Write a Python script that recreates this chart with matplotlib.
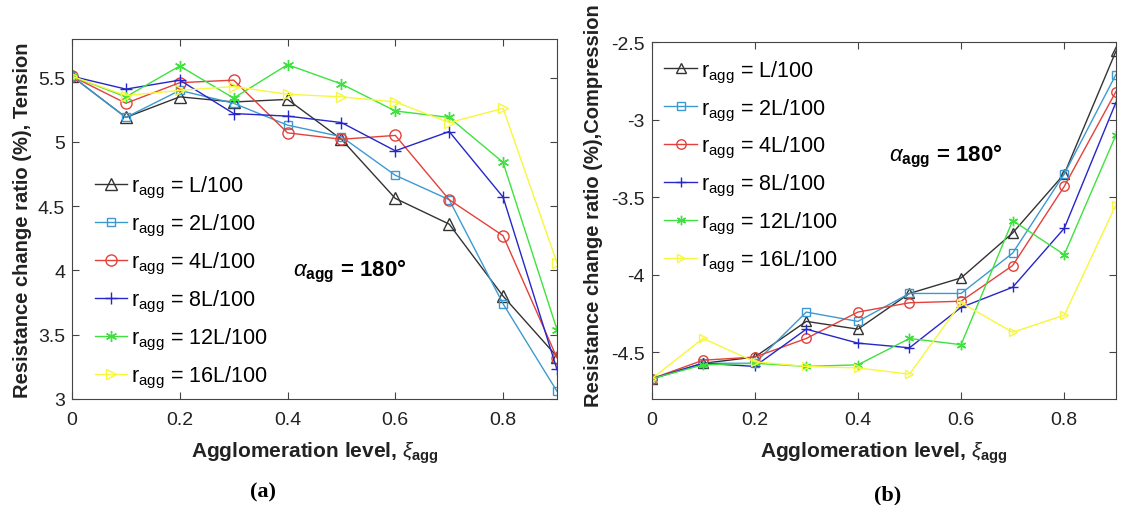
import matplotlib.pyplot as plt
from matplotlib.ticker import FuncFormatter

xi = [0, 0.1, 0.2, 0.3, 0.4, 0.5, 0.6, 0.7, 0.8, 0.9]

labels = ["L/100", "2L/100", "4L/100", "8L/100", "12L/100", "16L/100"]
colors = ["#333333", "#3d9ad1", "#e3413b", "#2626c9", "#3ee23e", "#f7f73c"]
markers = ["^", "s", "o", "+", (6, 2, 0), ">"]
msizes = [8, 6, 8, 8, 8, 7.5]

# (a) tension
tension = [
    [5.51, 5.19, 5.35, 5.31, 5.33, 5.02, 4.56, 4.36, 3.80, 3.33],
    [5.51, 5.19, 5.40, 5.30, 5.13, 5.04, 4.74, 4.55, 3.74, 3.06],
    [5.51, 5.30, 5.46, 5.48, 5.07, 5.02, 5.05, 4.55, 4.27, 3.32],
    [5.51, 5.41, 5.48, 5.22, 5.20, 5.15, 4.93, 5.08, 4.57, 3.23],
    [5.51, 5.35, 5.59, 5.34, 5.60, 5.45, 5.24, 5.19, 4.84, 3.54],
    [5.51, 5.36, 5.40, 5.43, 5.37, 5.35, 5.31, 5.15, 5.26, 4.06],
]

# (b) compression
compression = [
    [-4.67, -4.57, -4.53, -4.30, -4.35, -4.12, -4.02, -3.73, -3.35, -2.56],
    [-4.67, -4.57, -4.57, -4.24, -4.30, -4.12, -4.12, -3.86, -3.35, -2.71],
    [-4.67, -4.55, -4.53, -4.41, -4.24, -4.18, -4.17, -3.94, -3.43, -2.82],
    [-4.67, -4.57, -4.59, -4.35, -4.44, -4.47, -4.21, -4.08, -3.70, -2.89],
    [-4.67, -4.58, -4.57, -4.59, -4.58, -4.41, -4.45, -3.65, -3.87, -3.10],
    [-4.67, -4.41, -4.56, -4.59, -4.60, -4.64, -4.18, -4.37, -4.26, -3.55],
]

plt.rcParams["font.family"] = ["Liberation Sans", "DejaVu Sans"]
plt.rcParams["mathtext.fontset"] = "custom"
plt.rcParams["mathtext.rm"] = "Liberation Sans"
plt.rcParams["mathtext.it"] = "Liberation Sans:italic"
plt.rcParams["mathtext.bf"] = "Liberation Sans:bold"

fig = plt.figure(figsize=(11.39, 5.06), dpi=100)
ax1 = fig.add_axes([0.0632, 0.2095, 0.4258, 0.7115])
ax2 = fig.add_axes([0.572, 0.2095, 0.4077, 0.7055])

fmt = FuncFormatter(lambda v, p: "%g" % round(v, 3))


def draw(ax, data, ylim, yticks, ylabel, loc, anchor, msc):
    for vals, lab, c, m, ms in zip(data, labels, colors, markers, msizes):
        ax.plot(xi, vals, color=c, marker=m, markersize=ms * msc, lw=1.0,
                markerfacecolor="none", markeredgecolor=c, markeredgewidth=1.0,
                label=r"r$_{\mathregular{agg}}$ = " + lab)
    ax.set_xlim(0, 0.9)
    ax.set_ylim(*ylim)
    ax.set_xticks([0, 0.2, 0.4, 0.6, 0.8])
    ax.set_yticks(yticks)
    ax.xaxis.set_major_formatter(fmt)
    ax.yaxis.set_major_formatter(fmt)
    ax.tick_params(direction="in", top=True, right=True, labelsize=14,
                   length=5, color="#444444", labelcolor="#222222")
    ax.tick_params(axis="x", pad=9)
    ax.tick_params(axis="y", pad=5)
    for s in ax.spines.values():
        s.set_color("#444444")
        s.set_linewidth(0.8)
    ax.set_xlabel(r"Agglomeration level, $\xi_{\mathregular{agg}}$",
                  fontsize=15, fontweight="bold", color="#222222", labelpad=8)
    ax.set_ylabel(ylabel, fontsize=14.5, fontweight="bold", color="#222222", labelpad=4)
    ax.legend(loc=loc, bbox_to_anchor=anchor, frameon=False, fontsize=15.5,
              handlelength=1.5, handletextpad=0.2, labelspacing=0.55,
              borderaxespad=0.2, borderpad=0.4)


draw(ax1, tension, (3, 5.8), [3, 3.5, 4, 4.5, 5, 5.5],
     "Resistance change ratio (%), Tension", "lower left", (0.02, -0.01), 1.0)
draw(ax2, compression, (-4.8, -2.5), [-4.5, -4, -3.5, -3, -2.5],
     "Resistance change ratio (%),Compression", "upper left", (0.0, 0.99), 0.85)
ax2.yaxis.set_label_coords(-0.105, 0.545)

ax1.text(0.41, 4.0, r"$\alpha_{\mathbf{agg}}$ = 180°", fontsize=16,
         fontweight="bold", ha="left", va="center")
ax2.text(0.46, -3.23, r"$\alpha_{\mathbf{agg}}$ = 180°", fontsize=16,
         fontweight="bold", ha="left", va="center")

fig.text(263 / 1139, 1 - 492 / 506, "(a)", fontsize=16, fontweight="bold",
         family="Liberation Serif", ha="center", va="center")
fig.text(888 / 1139, 1 - 495 / 506, "(b)", fontsize=16, fontweight="bold",
         family="Liberation Serif", ha="center", va="center")

fig.savefig("out.png", dpi=100)
